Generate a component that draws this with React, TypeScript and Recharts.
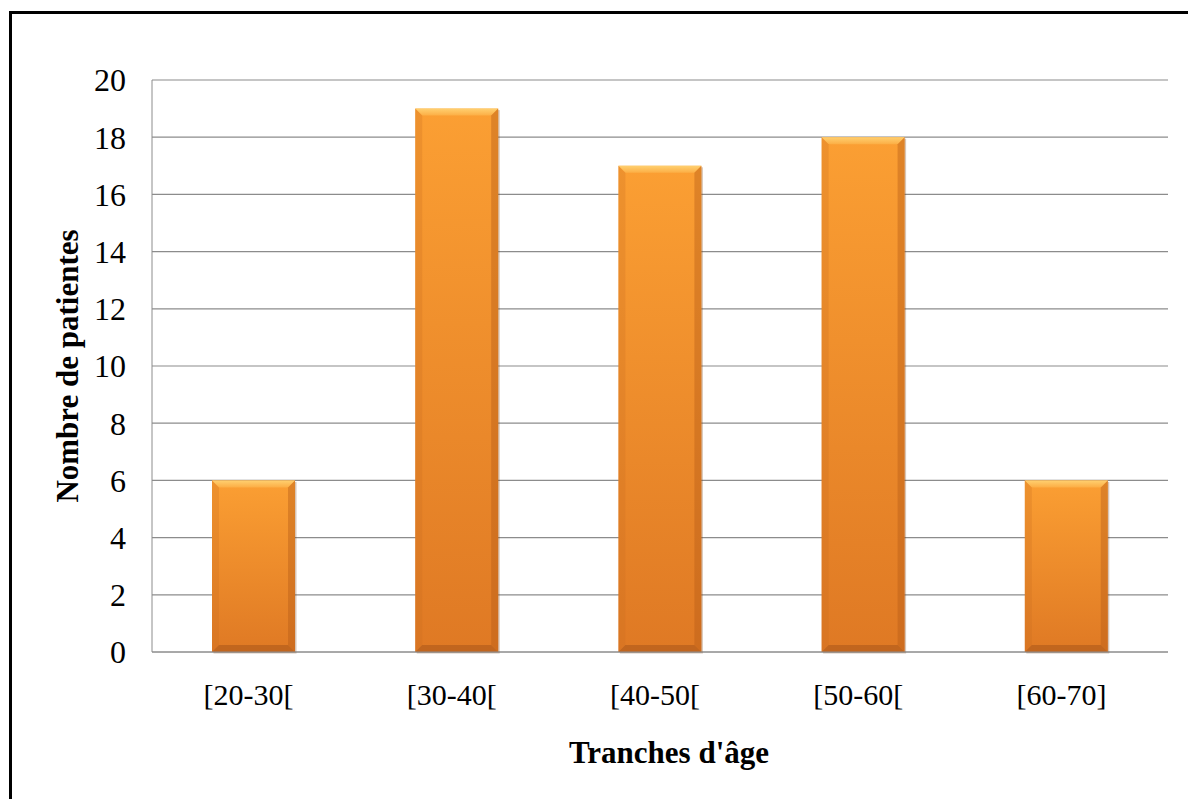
import { BarChart, Bar, XAxis, YAxis, CartesianGrid, Label } from 'recharts';

const ageBands = ['[20-30[', '[30-40[', '[40-50[', '[50-60[', '[60-70]'];
const patientCounts = [6, 19, 17, 18, 6];
const yTicks = [0, 2, 4, 6, 8, 10, 12, 14, 16, 18, 20];

const data = ageBands.map((band, i) => ({ band, patients: patientCounts[i] }));

const FONT = '"Liberation Serif", "Times New Roman", serif';

// Orange bar with a bevelled edge
function BevelBar(props: any) {
  const { x, y, width, height } = props;
  if (!height || height <= 0) return null;
  const b = 7;
  return (
    <g>
      <rect x={x + 1.5} y={y + 1.5} width={width} height={height} fill="#7a4010" opacity={0.3} />
      <rect x={x} y={y} width={width} height={height} fill="url(#barBody)" />
      <polygon
        points={`${x},${y} ${x + width},${y} ${x + width - b},${y + b} ${x + b},${y + b}`}
        fill="url(#barTop)"
      />
      <polygon
        points={`${x},${y} ${x + b},${y + b} ${x + b},${y + height - b} ${x},${y + height}`}
        fill="#c86a1e"
        opacity={0.25}
      />
      <polygon
        points={`${x + width},${y} ${x + width - b},${y + b} ${x + width - b},${y + height - b} ${x + width},${y + height}`}
        fill="#b45b17"
        opacity={0.4}
      />
      <polygon
        points={`${x},${y + height} ${x + b},${y + height - b} ${x + width - b},${y + height - b} ${x + width},${y + height}`}
        fill="#a8551a"
        opacity={0.55}
      />
    </g>
  );
}

export default function App() {
  return (
    <div style={{ position: 'fixed', left: 0, top: 0, width: 1188, height: 799, background: '#fff', overflow: 'hidden' }}>
      <div
        style={{
          position: 'absolute',
          left: 9,
          top: 11,
          width: 1200,
          height: 800,
          borderLeft: '3px solid #000',
          borderTop: '3px solid #000',
        }}
      />
      <div style={{ position: 'absolute', left: 0, top: 0 }}>
        <BarChart
          width={1188}
          height={799}
          data={data}
          margin={{ top: 80, right: 20, bottom: 0, left: 0 }}
          barSize={83}
        >
          <defs>
            <linearGradient id="barBody" x1="0" y1="0" x2="0" y2="1">
              <stop offset="0%" stopColor="#fb9f33" />
              <stop offset="100%" stopColor="#df7924" />
            </linearGradient>
            <linearGradient id="barTop" x1="0" y1="0" x2="0" y2="1">
              <stop offset="0%" stopColor="#ffd070" />
              <stop offset="100%" stopColor="#fcae45" />
            </linearGradient>
          </defs>
          <CartesianGrid horizontal vertical={false} stroke="#8c8c8c" strokeWidth={1.2} />
          <XAxis
            dataKey="band"
            height={147}
            stroke="#8c8c8c"
            tickLine={false}
            tickSize={0}
            tickMargin={32}
            tick={{ fontSize: 30, fill: '#000', fontFamily: FONT, dx: -5 }}
            interval={0}
          >
            <Label
              value="Tranches d'âge"
              position="insideBottom"
              offset={36}
              dx={9}
              style={{ fontSize: 31, fontWeight: 'bold', fill: '#000', fontFamily: FONT }}
            />
          </XAxis>
          <YAxis
            width={152}
            domain={[0, 20]}
            ticks={yTicks}
            stroke="#8c8c8c"
            tickLine={false}
            tickSize={0}
            tickMargin={26}
            tick={{ fontSize: 32, fill: '#000', fontFamily: FONT }}
          >
            <Label
              value="Nombre de patientes"
              angle={-90}
              position="insideLeft"
              offset={67}
              style={{ fontSize: 31, fontWeight: 'bold', fill: '#000', fontFamily: FONT, textAnchor: 'middle' }}
            />
          </YAxis>
          <Bar dataKey="patients" shape={<BevelBar />} isAnimationActive={false} />
        </BarChart>
      </div>
    </div>
  );
}
